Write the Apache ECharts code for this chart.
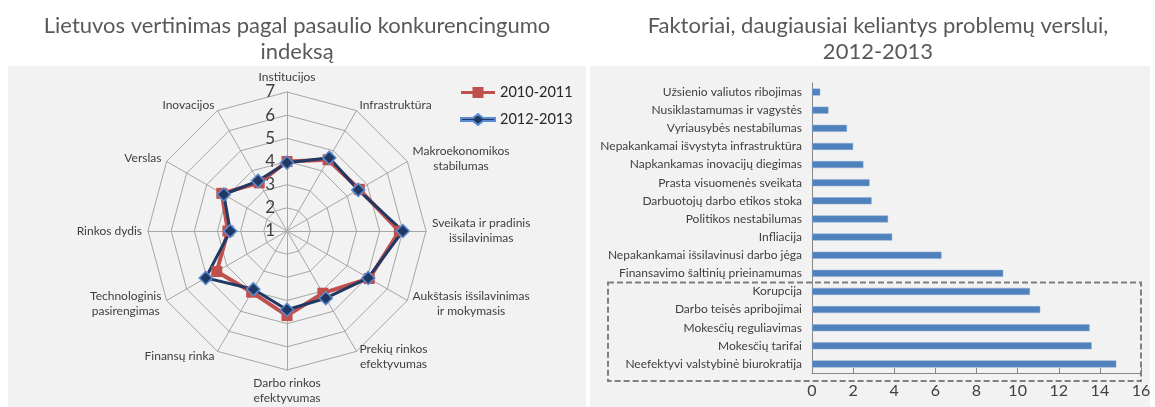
<!DOCTYPE html>
<html>
<head>
<meta charset="utf-8">
<script src="https://cdn.jsdelivr.net/npm/echarts@6/dist/echarts.min.js"></script>
<style>
  html, body { margin: 0; padding: 0; background: #fff; }
  #main { width: 1155px; height: 407px; }
</style>
</head>
<body>
<div id="main"></div>
<script>
// radar axes, clockwise from the top
const radarAxes = ['Institucijos', 'Infrastruktūra', 'Makroekonomikos\nstabilumas', 'Sveikata ir pradinis\nišsilavinimas',
  'Aukštasis išsilavinimas\nir mokymasis', 'Prekių rinkos\nefektyvumas', 'Darbo rinkos\nefektyvumas', 'Finansų rinka',
  'Technologinis\npasirengimas', 'Rinkos dydis', 'Verslas', 'Inovacijos']
const v2010 = [4.0, 4.55, 4.6, 5.85, 5.1, 4.1, 4.65, 4.05, 4.5, 3.55, 4.25, 3.4]
const v2012 = [3.95, 4.65, 4.55, 6.0, 5.05, 4.35, 4.4, 3.9, 5.05, 3.45, 4.15, 3.5]
const radarMin = 1
const radarMax = 7

// bar chart, top to bottom
const barCats = ['Užsienio valiutos ribojimas', 'Nusiklastamumas ir vagystės', 'Vyriausybės nestabilumas',
  'Nepakankamai išvystyta infrastruktūra', 'Napkankamas inovacijų diegimas', 'Prasta visuomenės sveikata',
  'Darbuotojų darbo etikos stoka', 'Politikos nestabilumas', 'Infliacija', 'Nepakankamai išsilavinusi darbo jėga',
  'Finansavimo šaltinių prieinamumas', 'Korupcija', 'Darbo teisės apribojimai', 'Mokesčių reguliavimas',
  'Mokesčių tarifai', 'Neefektyvi valstybinė biurokratija']
const barVals = [0.4, 0.8, 1.7, 2.0, 2.5, 2.8, 2.9, 3.7, 3.9, 6.3, 9.3, 10.6, 11.1, 13.5, 13.6, 14.8]
const boxFrom = 'Korupcija'
const boxTo = 'Neefektyvi valstybinė biurokratija'

const FONT = 'Lato, "Liberation Sans", sans-serif'
const TXT = '#404040'

// echarts radar goes counter-clockwise, so flip the order (keep the first on top)
function ccw(arr) {
  return [arr[0]].concat(arr.slice(1).reverse())
}

const chart = echarts.init(document.getElementById('main'))

const option = {
  animation: false,
  textStyle: { fontFamily: FONT },
  title: [
    {
      text: 'Lietuvos vertinimas pagal pasaulio konkurencingumo\nindeksą',
      left: 292, top: 8, textAlign: 'center',
      textStyle: { fontFamily: FONT, fontSize: 22, fontWeight: 'normal', color: '#595959', lineHeight: 26 },
    },
    {
      text: 'Faktoriai, daugiausiai keliantys problemų verslui,\n2012-2013',
      left: 873, top: 8, textAlign: 'center',
      textStyle: { fontFamily: FONT, fontSize: 22, fontWeight: 'normal', color: '#595959', lineHeight: 26 },
    },
  ],
  legend: {
    orient: 'vertical',
    left: 455, top: 80,
    itemWidth: 34, itemHeight: 11, itemGap: 12,
    selectedMode: false,
    textStyle: { fontFamily: FONT, fontSize: 14.5, color: '#262626' },
    data: [
      { name: '2010-2011', icon: 'path://M0,4L11.5,4L11.5,0L22.5,0L22.5,4L34,4L34,7L22.5,7L22.5,11L11.5,11L11.5,7L0,7Z' },
      { name: '2012-2013', icon: 'path://M0,4L12,4L17,0L22,4L34,4L34,7L22,7L17,11L12,7L0,7Z' },
    ],
  },
  radar: {
    center: [287, 231],
    radius: 139,
    startAngle: 90,
    shape: 'polygon',
    splitNumber: radarMax - radarMin,
    nameGap: 6,
    axisName: {
      fontFamily: FONT, fontSize: 12, color: TXT,
      formatter: (name) => name.split('\n').map((s) => '{c|' + s + '}').join('\n'),
      rich: { c: { align: 'center', fontFamily: FONT, fontSize: 12, color: TXT, lineHeight: 15 } },
    },
    axisLine: { lineStyle: { color: '#a6a6a6', width: 1 } },
    splitLine: { lineStyle: { color: '#a6a6a6', width: 1 } },
    splitArea: { show: false },
    axisTick: { show: false },
    axisLabel: { show: false },
    indicator: ccw(radarAxes).map((name, i) => {
      const ind = { name: name, min: radarMin, max: radarMax }
      if (i === 0) {
        ind.axisLabel = { show: true, fontFamily: FONT, fontSize: 17, color: TXT, margin: 12 }
      }
      return ind
    }),
  },
  grid: { left: 812, right: 14, top: 83, bottom: 34 },
  xAxis: {
    type: 'value', min: 0, max: 16, interval: 2,
    axisLine: { show: true, lineStyle: { color: '#868686' } },
    axisTick: { show: true, inside: true, length: 5, lineStyle: { color: '#868686' } },
    splitLine: { show: false },
    axisLabel: { fontFamily: FONT, fontSize: 16, color: TXT, margin: 10 },
  },
  yAxis: {
    type: 'category', inverse: true, data: barCats,
    axisLine: { lineStyle: { color: '#868686' } },
    axisTick: { length: 5, lineStyle: { color: '#868686' } },
    axisLabel: { fontFamily: FONT, fontSize: 12, color: TXT, margin: 10 },
  },
  series: [
    {
      type: 'radar',
      z: 3,
      data: [
        {
          name: '2010-2011',
          value: ccw(v2010),
          symbol: 'rect', symbolSize: 11,
          lineStyle: { color: '#c0504d', width: 4 },
          itemStyle: { color: '#c0504d' },
        },
        {
          name: '2012-2013',
          value: ccw(v2012),
          symbol: 'diamond', symbolSize: 13,
          lineStyle: { color: '#1f3864', width: 3 },
          itemStyle: { color: '#1f3864', borderColor: '#5b8bd0', borderWidth: 1.5 },
        },
      ],
    },
    {
      type: 'bar',
      data: barVals,
      barWidth: 7,
      itemStyle: { color: '#4f81bd', borderColor: '#8aaad3', borderWidth: 0.5 },
    },
  ],
  graphic: [
    { id: 'panelL', type: 'rect', z: -10, silent: true, shape: { x: 8, y: 66, width: 578, height: 341 }, style: { fill: '#f2f2f2' } },
    { id: 'panelR', type: 'rect', z: -10, silent: true, shape: { x: 590, y: 66, width: 560, height: 341 }, style: { fill: '#f2f2f2' } },
  ],
}

chart.setOption(option)

// dashed box round the top five factors, placed from the axes
const pTop = chart.convertToPixel({ gridIndex: 0 }, [0, barCats.indexOf(boxFrom)])
const pBot = chart.convertToPixel({ gridIndex: 0 }, [16, barCats.indexOf(boxTo)])
const band = (pBot[1] - pTop[1]) / (barCats.indexOf(boxTo) - barCats.indexOf(boxFrom))
const bx0 = 608
const by0 = pTop[1] - band / 2
const bx1 = pBot[0]
const by1 = pBot[1] + band / 2 + 8
chart.setOption({
  graphic: [
    {
      id: 'box', type: 'rect', z: 10, silent: true,
      shape: { x: bx0, y: by0, width: bx1 - bx0, height: by1 - by0 },
      style: { fill: 'none', stroke: '#7f7f7f', lineWidth: 2, lineDash: [6, 3] },
    },
  ],
})
</script>
</body>
</html>
